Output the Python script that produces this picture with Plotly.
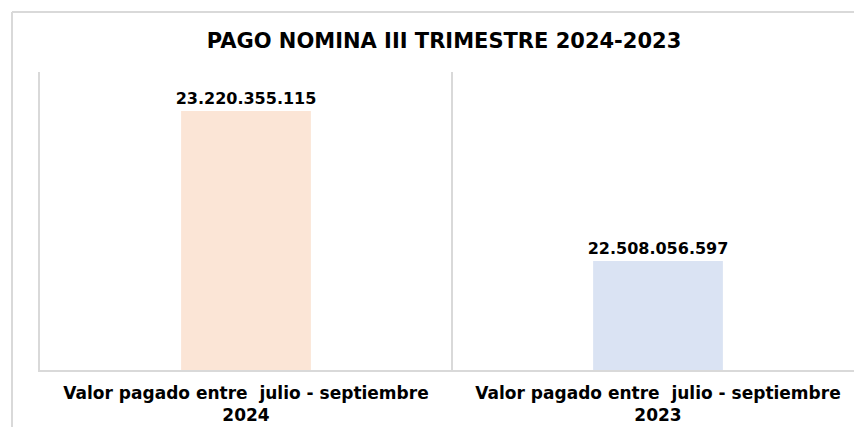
import plotly.graph_objects as go

# ---- data ----
categories = ["Valor pagado entre  julio - septiembre<br>2024",
              "Valor pagado entre  julio - septiembre<br>2023"]
values = [23220355115, 22508056597]
value_labels = ["23.220.355.115", "22.508.056.597"]
bar_colors = ["#FBE5D6", "#DAE3F3"]
title_text = "PAGO NOMINA III TRIMESTRE 2024-2023"

# page body has an 8px offset; figure is sized to fit the visible window
OFF = 8
W, H = 862 - OFF, 427 - OFF
L, R, T, B = 40 - OFF, 0, 72 - OFF, 427 - 370
FONT = "DejaVu Sans"
GRAY = "#D9D9D9"

fig = go.Figure()
fig.add_trace(go.Bar(
    x=categories, y=values,
    marker=dict(color=bar_colors, line=dict(width=0)),
    text=value_labels, textposition="outside", constraintext="none",
    textfont=dict(family=FONT, size=16, color="#000000", weight="bold"),
    cliponaxis=False, width=0.315,
))

pw = W - L - R
ph = H - T - B

def px_x(p):
    return (p - OFF - L) / pw

def px_y(p):
    return (H - B - (p - OFF)) / ph

fig.update_layout(
    width=W, height=H,
    margin=dict(l=L, r=R, t=T, b=B, autoexpand=False),
    paper_bgcolor="white", plot_bgcolor="white",
    showlegend=False,
    title=dict(text=title_text, x=(444 - OFF) / W, xref="container", xanchor="center",
               y=1 - (40.5 - OFF) / H, yref="container", yanchor="middle",
               font=dict(family=FONT, size=21, color="#000000", weight="bold")),
    xaxis=dict(
        type="category",
        range=[-0.5, -0.5 + pw / 412.0],
        showline=True, linecolor=GRAY, linewidth=1.5,
        showgrid=True, gridcolor=GRAY, gridwidth=1.5, tickson="boundaries",
        ticks="", zeroline=False,
        tickfont=dict(family=FONT, size=17, color="#000000", weight="bold"),
        ticklabelstandoff=7,
    ),
    yaxis=dict(
        range=[21.99e9, 23.405e9], showticklabels=False, showgrid=False,
        zeroline=False, showline=True, linecolor=GRAY, linewidth=1.5, ticks="",
    ),
    shapes=[
        dict(type="line", xref="paper", yref="paper",
             x0=px_x(12), x1=px_x(12), y0=px_y(12), y1=px_y(440),
             line=dict(color=GRAY, width=2)),
        dict(type="line", xref="paper", yref="paper",
             x0=px_x(12), x1=px_x(870), y0=px_y(12), y1=px_y(12),
             line=dict(color=GRAY, width=2)),
    ],
)

fig.write_html("out.html")
